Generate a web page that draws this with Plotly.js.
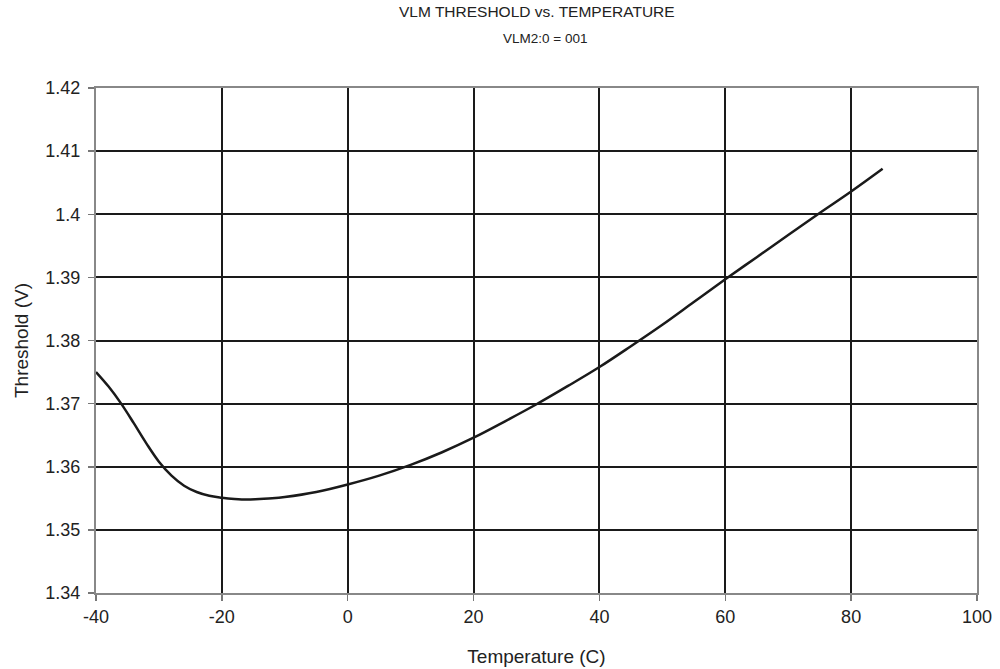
<!DOCTYPE html>
<html>
<head>
<meta charset="utf-8">
<script src="https://cdn.plot.ly/plotly-3.0.1.min.js"></script>
<style>html,body{margin:0;padding:0;background:#fff;}#chart{width:1000px;height:669px;}</style>
</head>
<body>
<div id="chart"></div>
<script>
const temperature = [-40, -38, -36, -34, -32, -30, -28, -26, -24, -22, -20, -18, -16, -14, -12, -10, -5, 0, 5, 10, 15, 20, 25, 30, 35, 40, 45, 50, 55, 60, 65, 70, 75, 80, 85];
const threshold = [1.3750, 1.3727, 1.3700, 1.3669, 1.3637, 1.3608, 1.3586, 1.3570, 1.3560, 1.3554, 1.3551, 1.3549, 1.3548, 1.3549, 1.3550, 1.3552, 1.3560, 1.3572, 1.3586, 1.3603, 1.3623, 1.3646, 1.3672, 1.3699, 1.3728, 1.3758, 1.3791, 1.3825, 1.3861, 1.3897, 1.3932, 1.3967, 1.4002, 1.4036, 1.4072];
const xTickVals = [-40, -20, 0, 20, 40, 60, 80, 100];
const xTickLabels = ['-40', '-20', '0', '20', '40', '60', '80', '100'];
const yTickVals = [1.34, 1.35, 1.36, 1.37, 1.38, 1.39, 1.40, 1.41, 1.42];
const yTickLabels = ['1.34', '1.35', '1.36', '1.37', '1.38', '1.39', '1.4', '1.41', '1.42'];
const titleText = 'VLM THRESHOLD vs. TEMPERATURE';
const subtitleText = 'VLM2:0 = 001';

const font = 'Liberation Sans, Arial, Helvetica, sans-serif';

Plotly.newPlot('chart', [{
  x: temperature,
  y: threshold,
  type: 'scatter',
  mode: 'lines',
  line: {color: '#1a1a1a', width: 2.5, shape: 'spline', smoothing: 1},
  hoverinfo: 'x+y'
}], {
  width: 1000,
  height: 669,
  margin: {l: 96, r: 23, t: 88, b: 76},
  paper_bgcolor: '#ffffff',
  plot_bgcolor: '#ffffff',
  showlegend: false,
  annotations: [
    {text: titleText, xref: 'paper', yref: 'paper', x: 0.5, y: 1.1505, xanchor: 'center', yanchor: 'middle',
     showarrow: false, font: {family: font, size: 15.5, color: '#222'}},
    {text: subtitleText, xref: 'paper', yref: 'paper', x: 0.5096, y: 1.099, xanchor: 'center', yanchor: 'middle',
     showarrow: false, font: {family: font, size: 13.5, color: '#222'}}
  ],
  xaxis: {
    range: [-40, 100],
    tickvals: xTickVals,
    ticktext: xTickLabels,
    ticks: 'outside', ticklen: 6, tickwidth: 1.5, tickcolor: '#777',
    showline: true, linecolor: '#888', linewidth: 2, mirror: true,
    showgrid: true, gridcolor: '#1a1a1a', gridwidth: 2,
    zeroline: false,
    tickfont: {family: font, size: 18, color: '#222'},
    title: {text: 'Temperature (C)', font: {family: font, size: 19, color: '#222'}, standoff: 24}
  },
  yaxis: {
    range: [1.34, 1.42],
    tickvals: yTickVals,
    ticktext: yTickLabels,
    ticks: 'outside', ticklen: 6, tickwidth: 1.5, tickcolor: '#777',
    ticklabelstandoff: 4,
    showline: true, linecolor: '#888', linewidth: 2, mirror: true,
    showgrid: true, gridcolor: '#1a1a1a', gridwidth: 2,
    zeroline: false,
    tickfont: {family: font, size: 18, color: '#222'},
    title: {text: 'Threshold (V)', font: {family: font, size: 19, color: '#222'}, standoff: 12}
  }
}, {displayModeBar: false, staticPlot: true});
</script>
</body>
</html>
